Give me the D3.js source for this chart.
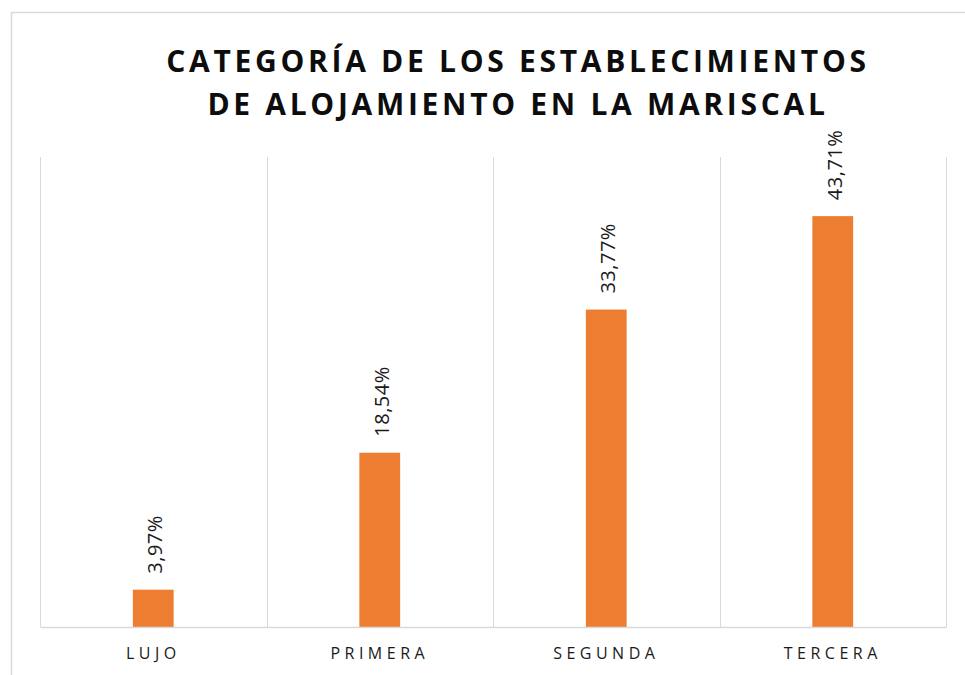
<!DOCTYPE html>
<html>
<head>
<meta charset="utf-8">
<script src="https://cdn.jsdelivr.net/npm/d3@7"></script>
<style>
  body { margin: 0; background: #fff; }
  svg text { font-family: "Open Sans", "Noto Sans", sans-serif; }
</style>
</head>
<body>
<div id="chart"></div>
<script>
// data
var categories = ["LUJO", "PRIMERA", "SEGUNDA", "TERCERA"];
var values = [3.97, 18.54, 33.77, 43.71];
var titleLines = ["CATEGORÍA DE LOS ESTABLECIMIENTOS", "DE ALOJAMIENTO EN LA MARISCAL"];

var W = 965, H = 675;
var svg = d3.select("#chart").append("svg").attr("width", W).attr("height", H);

// chart border (cut off at right and bottom)
svg.append("path")
  .attr("d", "M11.5," + H + " V12.5 H" + W)
  .attr("fill", "none").attr("stroke", "#d9d9d9").attr("stroke-width", 1.5);

var plot = {left: 40, right: 946, top: 157, bottom: 627};

var x = d3.scaleBand().domain(categories).range([plot.left, plot.right]).paddingInner(0.82).paddingOuter(0.41);
var xCat = d3.scaleBand().domain(categories).range([plot.left, plot.right]);
var y = d3.scaleLinear().domain([0, 50]).range([plot.bottom, plot.top]);

// vertical gridlines at category boundaries
var bounds = categories.map(c => xCat(c)).concat([plot.right]);
svg.append("g").selectAll("line").data(bounds).join("line")
  .attr("x1", d => Math.round(d) + 0.5).attr("x2", d => Math.round(d) + 0.5)
  .attr("y1", plot.top).attr("y2", plot.bottom)
  .attr("stroke", "#d9d9d9").attr("stroke-width", 1);

// bars
svg.append("g").selectAll("rect").data(values).join("rect")
  .attr("x", (d, i) => x(categories[i]))
  .attr("width", x.bandwidth())
  .attr("y", d => y(d))
  .attr("height", d => y(0) - y(d))
  .attr("fill", "#ED7D31");

// x axis
var xAxis = svg.append("g").attr("transform", "translate(0," + plot.bottom + ")")
  .call(d3.axisBottom(xCat).tickSize(0).tickPadding(21));
xAxis.select(".domain").attr("stroke", "#d9d9d9").attr("stroke-width", 1.5);
xAxis.selectAll("text")
  .style("font-family", "'Open Sans', sans-serif")
  .attr("font-size", 16).attr("fill", "#1a1a1a")
  .style("letter-spacing", "4.5px");

// value labels, rotated
svg.append("g").selectAll("text").data(values).join("text")
  .attr("transform", (d, i) => "translate(" + (x(categories[i]) + x.bandwidth() / 2 + 9) + "," + (y(d) - 16) + ") rotate(-90)")
  .attr("text-anchor", "start")
  .attr("font-size", 20).attr("fill", "#1a1a1a")
  .style("letter-spacing", "0.5px")
  .text(d => d.toFixed(2).replace(".", ",") + "%");

// title
svg.append("g").selectAll("text").data(titleLines).join("text")
  .attr("x", 518).attr("y", (d, i) => 72 + i * 43)
  .attr("text-anchor", "middle")
  .attr("font-size", 30).attr("font-weight", "bold").attr("fill", "#0d0d0d")
  .style("letter-spacing", "3.7px")
  .text(d => d);
</script>
</body>
</html>
